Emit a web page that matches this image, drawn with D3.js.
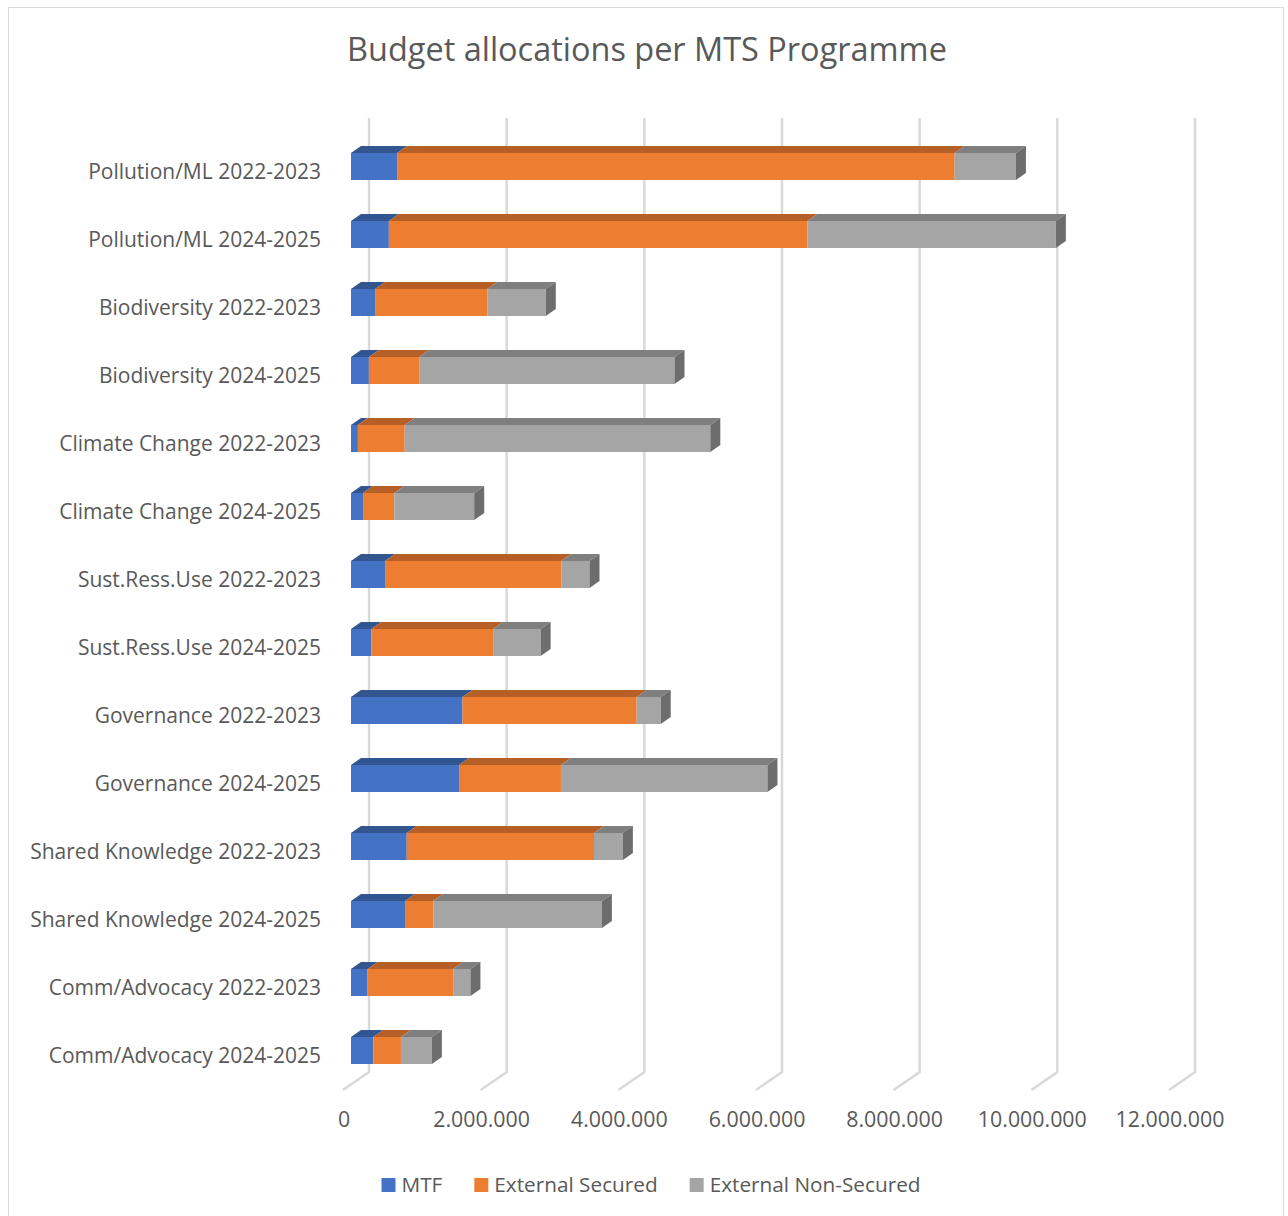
<!DOCTYPE html>
<html><head><meta charset="utf-8">
<script src="https://cdn.jsdelivr.net/npm/d3@7/dist/d3.min.js"></script>
<style>html,body{margin:0;padding:0;background:#fff}svg{display:block}</style>
</head><body>
<svg id="chart" width="1288" height="1216"></svg>
<script>
const categories = ["Pollution/ML 2022-2023","Pollution/ML 2024-2025","Biodiversity 2022-2023","Biodiversity 2024-2025","Climate Change 2022-2023","Climate Change 2024-2025","Sust.Ress.Use 2022-2023","Sust.Ress.Use 2024-2025","Governance 2022-2023","Governance 2024-2025","Shared Knowledge 2022-2023","Shared Knowledge 2024-2025","Comm/Advocacy 2022-2023","Comm/Advocacy 2024-2025"];
const mtf =          [670000, 550000, 350000, 260000, 100000, 175000, 495000, 295000, 1620000, 1570000, 810000, 785000, 240000, 325000];
const extSecured =   [8100000, 6080000, 1630000, 730000, 680000, 455000, 2560000, 1770000, 2530000, 1480000, 2720000, 410000, 1245000, 400000];
const extNonSecured = [890000, 3610000, 850000, 3710000, 4440000, 1160000, 410000, 690000, 350000, 3000000, 420000, 2450000, 250000, 450000];
const seriesNames = ["MTF","External Secured","External Non-Secured"];
const tickValues = [0, 2000000, 4000000, 6000000, 8000000, 10000000, 12000000];
const tickLabels = ["0","2.000.000","4.000.000","6.000.000","8.000.000","10.000.000","12.000.000"];

const colors = {front:["#4472C4","#ED7D31","#A5A5A5"], top:["#32568F","#B65F27","#7F7F7F"], side:["#2C4C80","#9E5221","#6D6D6D"]};
const textColor = "#595959";
const FONT = "'Open Sans', sans-serif";

const svg = d3.select("#chart");
// chart border
svg.append("rect").attr("x",8.5).attr("y",7.5).attr("width",1275).attr("height",1220)
  .attr("fill","#fff").attr("stroke","#D9D9D9").attr("stroke-width",1);

// scales: back plane (gridlines) and front plane (bar faces)
const xBack = d3.scaleLinear().domain([0, 12000000]).range([369, 1195]);
const frontOff = 18, floorDx = 26, floorDy = 18;
const xFront = v => xBack(v) - frontOff;
const y = d3.scalePoint().domain(categories).range([172, 1056]);
const gridTop = 118, gridBottom = 1072;
const faceUp = 19, faceDown = 8, dx = 10, dy = 7;

// gridlines
const grid = svg.append("g");
grid.selectAll("path").data(tickValues).join("path")
  .attr("d", v => `M${xBack(v)},${gridTop}L${xBack(v)},${gridBottom}L${xBack(v)-floorDx},${gridBottom+floorDy}`)
  .attr("fill","none").attr("stroke","#D9D9D9").attr("stroke-width",2.5);

// stacked data
const rows = categories.map((c,i)=>{
  const vals=[mtf[i], extSecured[i], extNonSecured[i]];
  let acc=0; const segs=vals.map((v,k)=>{const s={k, x0:acc, x1:acc+v}; acc+=v; return s;});
  return {c, segs, total:acc};
});

const bars = svg.append("g");
rows.forEach(r=>{
  const g = bars.append("g");
  const top = y(r.c)-faceUp, bot = y(r.c)+faceDown;
  r.segs.forEach(s=>{
    const a = xFront(s.x0), b = xFront(s.x1);
    g.append("path").attr("d",`M${a},${top}L${b},${top}L${b+dx},${top-dy}L${a+dx},${top-dy}Z`).attr("fill",colors.top[s.k]);
    g.append("rect").attr("x",a).attr("y",top).attr("width",b-a).attr("height",bot-top).attr("fill",colors.front[s.k]);
  });
  const last = r.segs[r.segs.length-1];
  const e = xFront(r.total);
  g.append("path").attr("d",`M${e},${top}L${e+dx},${top-dy}L${e+dx},${bot-dy}L${e},${bot}Z`).attr("fill",colors.side[last.k]);
});

// fit helper: scale font so the widest text hits target width
function fit(sel, base, target){
  let w=0; sel.each(function(){w=Math.max(w,this.getComputedTextLength());});
  sel.attr("font-size", base*target/w);
}

// title
const title = svg.append("text").attr("x",647).attr("y",50).attr("dy","0.35em").attr("text-anchor","middle")
  .attr("font-family",FONT).attr("font-size",30).attr("fill",textColor).text("Budget allocations per MTS Programme");
fit(title,30,600);

// category labels
const cat = svg.append("g").selectAll("text").data(categories).join("text")
  .attr("x",321).attr("y",d=>y(d)).attr("dy","0.35em").attr("text-anchor","end")
  .attr("font-family",FONT).attr("font-size",20).attr("fill",textColor).text(d=>d);
fit(cat,20,291);

// tick labels
const tk = svg.append("g").selectAll("text").data(tickValues).join("text")
  .attr("x",v=>xBack(v)-floorDx+1).attr("y",1120).attr("dy","0.35em").attr("text-anchor","middle")
  .attr("font-family",FONT).attr("font-size",20).attr("fill",textColor).text((v,i)=>tickLabels[i]);
fit(tk,20,109);

// legend
const lg = svg.append("g");
const items = seriesNames.map((n,i)=>{
  const t = lg.append("text").attr("y",1185).attr("dy","0.35em").attr("font-family",FONT).attr("font-size",20).attr("fill",textColor).text(n);
  return t;
});
fit(d3.selectAll(items.map(t=>t.node())),20,211);
const sq=14, gap1=6, gap2=32;
let total=0; const ws=items.map(t=>t.node().getComputedTextLength());
ws.forEach((w,i)=>{total+=sq+gap1+w+(i<ws.length-1?gap2:0);});
let cx = 651 - total/2;
items.forEach((t,i)=>{
  lg.append("rect").attr("x",cx).attr("y",1178).attr("width",sq).attr("height",sq).attr("fill",colors.front[i]);
  t.attr("x",cx+sq+gap1);
  cx += sq+gap1+ws[i]+gap2;
});
</script>
</body></html>
